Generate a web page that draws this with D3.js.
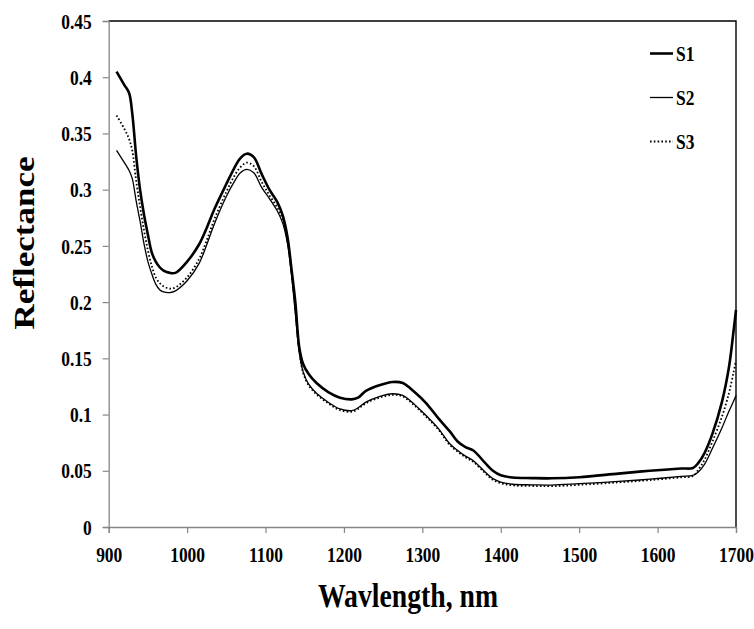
<!DOCTYPE html>
<html>
<head>
<meta charset="utf-8">
<script src="https://cdnjs.cloudflare.com/ajax/libs/d3/7.8.5/d3.min.js"></script>
<style>
  html, body { margin: 0; padding: 0; background: #fff; }
  svg { display: block; }
  text { font-family: "Liberation Serif", "Times New Roman", serif; font-weight: bold; fill: #000; }
</style>
</head>
<body>
<svg id="chart" width="754" height="629"></svg>
<script>
// Wavelength grid (nm)
const wavelength = [910, 920, 926, 930, 935, 940, 945, 950, 955, 960, 965, 970, 978, 985, 1000, 1015, 1025, 1035, 1050, 1060, 1068, 1076, 1085, 1095, 1105, 1115, 1122, 1128, 1133, 1138, 1143, 1148, 1155, 1165, 1180, 1195, 1210, 1218, 1228, 1245, 1262, 1275, 1290, 1305, 1320, 1335, 1345, 1355, 1365, 1380, 1390, 1400, 1415, 1440, 1465, 1500, 1550, 1590, 1630, 1645, 1652, 1660, 1670, 1682, 1691, 1697, 1700];

// Reflectance spectra
const s1 = [0.405, 0.393, 0.386, 0.368, 0.330, 0.300, 0.278, 0.260, 0.244, 0.236, 0.231, 0.228, 0.226, 0.226, 0.236, 0.251, 0.266, 0.283, 0.305, 0.319, 0.328, 0.332, 0.329, 0.314, 0.300, 0.289, 0.277, 0.258, 0.230, 0.200, 0.160, 0.145, 0.136, 0.128, 0.120, 0.115, 0.1135, 0.115, 0.121, 0.126, 0.129, 0.128, 0.120, 0.110, 0.097, 0.085, 0.076, 0.071, 0.068, 0.057, 0.050, 0.046, 0.044, 0.0435, 0.0433, 0.0443, 0.0475, 0.050, 0.052, 0.0525, 0.057, 0.066, 0.083, 0.111, 0.142, 0.175, 0.193];
const s2 = [0.335, 0.324, 0.317, 0.310, 0.290, 0.272, 0.252, 0.236, 0.225, 0.216, 0.211, 0.209, 0.2085, 0.210, 0.219, 0.234, 0.251, 0.270, 0.294, 0.307, 0.315, 0.318, 0.315, 0.302, 0.292, 0.281, 0.270, 0.252, 0.225, 0.190, 0.155, 0.138, 0.127, 0.119, 0.111, 0.105, 0.1035, 0.106, 0.111, 0.116, 0.1185, 0.117, 0.109, 0.099, 0.088, 0.074, 0.068, 0.063, 0.059, 0.049, 0.043, 0.040, 0.038, 0.0375, 0.0373, 0.0385, 0.0405, 0.0425, 0.045, 0.046, 0.049, 0.056, 0.070, 0.088, 0.103, 0.112, 0.117];
const s3 = [0.366, 0.354, 0.345, 0.335, 0.308, 0.285, 0.264, 0.246, 0.232, 0.222, 0.217, 0.214, 0.212, 0.213, 0.222, 0.238, 0.255, 0.274, 0.298, 0.312, 0.320, 0.324, 0.321, 0.307, 0.295, 0.284, 0.273, 0.255, 0.228, 0.194, 0.157, 0.137, 0.126, 0.118, 0.110, 0.104, 0.1025, 0.105, 0.110, 0.115, 0.1175, 0.116, 0.108, 0.098, 0.087, 0.073, 0.067, 0.062, 0.058, 0.048, 0.042, 0.039, 0.037, 0.0365, 0.0363, 0.0375, 0.0397, 0.0417, 0.0442, 0.0453, 0.051, 0.060, 0.076, 0.098, 0.119, 0.138, 0.148];

const seriesNames = ["S1", "S2", "S3"];
const xTicks = [900, 1000, 1100, 1200, 1300, 1400, 1500, 1600, 1700];
const yTicks = [0, 0.05, 0.1, 0.15, 0.2, 0.25, 0.3, 0.35, 0.4, 0.45];

const series = [
  { name: seriesNames[0], values: s1, width: 2.6, dash: null },
  { name: seriesNames[1], values: s2, width: 1.3, dash: null },
  { name: seriesNames[2], values: s3, width: 1.8, dash: "1.6,2.2" }
];

const svg = d3.select("#chart");
const plotL = 108.7, plotR = 736, plotT = 21, plotB = 527;
const x = d3.scaleLinear().domain([900, 1700]).range([plotL, plotR]);
const y = d3.scaleLinear().domain([0, 0.45]).range([plotB, plotT]);
const squeeze = 0.85;   // narrow serif look of the labels
const axisGrey = "#868686";

// Plot-area frame: top and right edges
svg.append("path")
  .attr("d", `M${plotL},${plotT}H${plotR}V${plotB}`)
  .attr("fill", "none").attr("stroke", "#000").attr("stroke-width", 1.4);

// Y axis
const yAxis = svg.append("g")
  .attr("transform", `translate(${plotL},0)`)
  .call(d3.axisLeft(y).tickValues(yTicks).tickSize(6).tickPadding(0).tickFormat(d => String(d)));
yAxis.select(".domain").attr("stroke", axisGrey).attr("stroke-width", 1.3);
yAxis.selectAll(".tick line").attr("stroke", axisGrey).attr("stroke-width", 1.2);
yAxis.selectAll(".tick text")
  .attr("x", -17 / squeeze).attr("dy", "0.35em")
  .attr("transform", `scale(${squeeze},1)`);

// X axis
const xAxis = svg.append("g")
  .attr("transform", `translate(0,${plotB})`)
  .call(d3.axisBottom(x).tickValues(xTicks).tickSize(6).tickPadding(0).tickFormat(d => String(d)));
xAxis.select(".domain").attr("stroke", axisGrey).attr("stroke-width", 1.3);
xAxis.selectAll(".tick line").attr("stroke", axisGrey).attr("stroke-width", 1.2);
xAxis.selectAll(".tick text")
  .attr("y", 35).attr("dy", 0)
  .attr("transform", `scale(${squeeze},1)`);

svg.selectAll(".tick text").style("font-size", "20.5px");
svg.selectAll("g[font-family]").attr("font-family", null).attr("font-size", null);

// Spectra
const line = d3.line()
  .x((d, i) => x(wavelength[i]))
  .y(d => y(d))
  .curve(d3.curveCatmullRom.alpha(0.5));

svg.append("g").selectAll("path")
  .data(series)
  .join("path")
  .attr("d", d => line(d.values))
  .attr("fill", "none")
  .attr("stroke", "#000")
  .attr("stroke-width", d => d.width)
  .attr("stroke-dasharray", d => d.dash)
  .attr("stroke-linejoin", "round");

// Legend
const legendY = [53.5, 97.5, 141.5];
const legend = svg.append("g").selectAll("g")
  .data(series)
  .join("g")
  .attr("transform", (d, i) => `translate(650,${legendY[i]})`);
legend.append("line")
  .attr("x1", 0).attr("x2", 23).attr("y1", 0).attr("y2", 0)
  .attr("stroke", "#000")
  .attr("stroke-width", d => d.width)
  .attr("stroke-dasharray", d => d.dash);
legend.append("text")
  .attr("transform", `translate(26,0) scale(${squeeze},1)`)
  .attr("dy", "0.35em")
  .style("font-size", "20.5px")
  .text(d => d.name);

// Axis titles
svg.append("text")
  .attr("transform", `translate(408,607) scale(0.84,1)`)
  .attr("text-anchor", "middle")
  .style("font-size", "33px")
  .text("Wavlength, nm");

svg.append("text")
  .attr("transform", `translate(34,243) rotate(-90) scale(1,0.85)`)
  .attr("text-anchor", "middle")
  .style("font-size", "35px")
  .text("Reflectance");
</script>
</body>
</html>
